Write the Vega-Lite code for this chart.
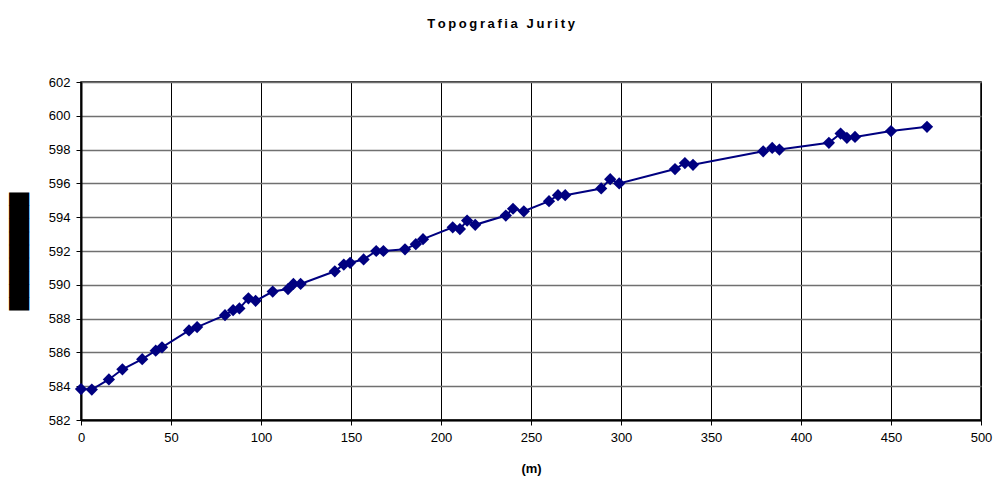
{
  "$schema": "https://vega.github.io/schema/vega-lite/v6.json",
  "width": 900,
  "height": 338,
  "autosize": "none",
  "padding": {"left": 81, "top": 82, "right": 14, "bottom": 61},
  "background": "white",
  "title": {
    "text": "T\u2009o\u2009p\u2009o\u2009g\u2009r\u2009a\u2009f\u2009i\u2009a\u2009 \u2009J\u2009u\u2009r\u2009i\u2009t\u2009y",
    "font": "Liberation Sans",
    "fontSize": 13,
    "fontWeight": "bold",
    "color": "black",
    "anchor": "middle",
    "frame": "bounds",
    "offset": 45
  },
  "config": {
    "view": {"stroke": "black", "strokeWidth": 1.5},
    "axis": {
      "labelFont": "Liberation Sans",
      "labelFontSize": 13,
      "labelColor": "black",
      "titleFont": "Liberation Sans",
      "titleColor": "black",
      "domainColor": "black",
      "tickColor": "black",
      "tickSize": 5
    }
  },
  "data": {
    "values": [
      {"d": 0, "alt": 583.83},
      {"d": 6, "alt": 583.8},
      {"d": 15.5, "alt": 584.4},
      {"d": 23, "alt": 585.0},
      {"d": 34, "alt": 585.6},
      {"d": 41.5, "alt": 586.1},
      {"d": 45, "alt": 586.3},
      {"d": 60, "alt": 587.3},
      {"d": 64.5, "alt": 587.5},
      {"d": 80, "alt": 588.2},
      {"d": 84.5, "alt": 588.5},
      {"d": 88, "alt": 588.6},
      {"d": 93, "alt": 589.2},
      {"d": 97, "alt": 589.05},
      {"d": 106.5, "alt": 589.6},
      {"d": 115, "alt": 589.75},
      {"d": 118, "alt": 590.05},
      {"d": 122, "alt": 590.05},
      {"d": 141, "alt": 590.8},
      {"d": 146, "alt": 591.2},
      {"d": 149.5, "alt": 591.3},
      {"d": 157, "alt": 591.5},
      {"d": 164, "alt": 592.0},
      {"d": 168, "alt": 592.0},
      {"d": 180, "alt": 592.1},
      {"d": 186, "alt": 592.4},
      {"d": 190, "alt": 592.7},
      {"d": 206.5, "alt": 593.4},
      {"d": 210.5, "alt": 593.3},
      {"d": 214.5, "alt": 593.8},
      {"d": 219, "alt": 593.55},
      {"d": 236, "alt": 594.1},
      {"d": 240, "alt": 594.5},
      {"d": 246, "alt": 594.35},
      {"d": 260, "alt": 594.95},
      {"d": 265, "alt": 595.3},
      {"d": 269, "alt": 595.3},
      {"d": 289, "alt": 595.7},
      {"d": 294, "alt": 596.25},
      {"d": 299, "alt": 596.0},
      {"d": 330, "alt": 596.85},
      {"d": 335.5, "alt": 597.2},
      {"d": 340, "alt": 597.1},
      {"d": 379, "alt": 597.9},
      {"d": 384, "alt": 598.1},
      {"d": 388, "alt": 598.0},
      {"d": 415.5, "alt": 598.4},
      {"d": 422, "alt": 598.95},
      {"d": 425.5, "alt": 598.7},
      {"d": 430, "alt": 598.75},
      {"d": 450, "alt": 599.1},
      {"d": 470, "alt": 599.35}
    ]
  },
  "encoding": {
    "x": {
      "field": "d",
      "type": "quantitative",
      "scale": {"domain": [0, 500], "nice": false, "zero": false},
      "axis": {
        "title": "(m)",
        "titleFontSize": 13,
        "titleFontWeight": "bold",
        "titlePadding": 18,
        "values": [0, 50, 100, 150, 200, 250, 300, 350, 400, 450, 500],
        "labelFlush": false,
        "grid": true,
        "gridColor": "black",
        "gridWidth": 1,
        "gridOpacity": 1,
        "labelPadding": 6,
        "domainWidth": 2
      }
    },
    "y": {
      "field": "alt",
      "type": "quantitative",
      "scale": {"domain": [582, 602], "nice": false, "zero": false},
      "axis": {
        "title": "█████████",
        "titleFontSize": 17,
        "titleFont": "DejaVu Sans",
        "titleLetterSpacing": -0.4,
        "titlePadding": 20,
        "values": [582, 584, 586, 588, 590, 592, 594, 596, 598, 600, 602],
        "grid": true,
        "gridColor": "#707070",
        "gridWidth": 1.5,
        "gridOpacity": 1,
        "labelPadding": 6,
        "domainWidth": 2
      }
    }
  },
  "layer": [
    {
      "mark": {"type": "line", "color": "#000080", "strokeWidth": 2}
    },
    {
      "mark": {"type": "point", "shape": "diamond", "filled": true, "color": "#000080", "opacity": 1, "size": 150}
    }
  ]
}
